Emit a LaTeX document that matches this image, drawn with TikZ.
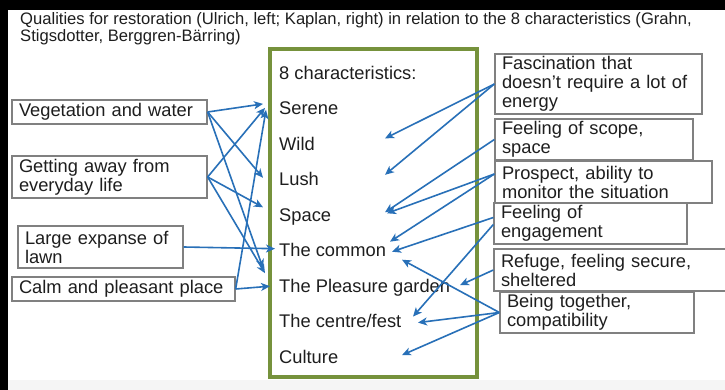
\documentclass[tikz,border=0pt]{standalone}
\usepackage{fontspec}
\setmainfont{Liberation Sans}
\usepackage{tikz}
\usetikzlibrary{calc}
\usetikzlibrary{positioning}
\usetikzlibrary{arrows.meta}

\definecolor{txt}{RGB}{30,30,30}
\definecolor{framegray}{RGB}{128,128,128}
\definecolor{olive}{RGB}{118,146,60}
\definecolor{linkblue}{RGB}{40,112,184}

\tikzset{
    quality/.style={draw=framegray, fill=white, line width=1.3pt, text=txt, align=left, inner xsep=7pt, inner ysep=0pt, font=\fontsize{18.3}{19}\selectfont},
    trait/.style={anchor=base west, inner sep=0pt, text=txt, font=\fontsize{18.3}{19}\selectfont},
    link/.style={draw=linkblue, line width=1.6pt, -{Stealth[length=9pt,width=8pt,inset=2.5pt]}}
}

\begin{document}
\begin{tikzpicture}[x=1pt,y=-1pt]
    \useasboundingbox (0,0) rectangle (725,390);

    \fill[black] (0,0) rectangle (725,390);
    \fill[white] (8,10) rectangle (725,380);
    \fill[black!4] (8,380) rectangle (725,390);

    \node[anchor=north west, inner sep=0pt, align=left, text=txt, font=\fontsize{16.6}{17.5}\selectfont] (title) at (20,12) {Qualities for restoration (Ulrich, left; Kaplan, right) in relation to the 8 characteristics (Grahn,\\Stigsdotter, Berggren-Bärring)};

    \draw[olive, line width=3.4pt] (270,49) rectangle (477,377);

    \node[trait] (head) at (279,79.5) {8 characteristics:};
    \node[trait] (serene) at (279,114.9) {Serene};
    \node[trait] (wild) at (279,150.4) {Wild};
    \node[trait] (lush) at (279,185.8) {Lush};
    \node[trait] (space) at (279,221.3) {Space};
    \node[trait] (common) at (279,256.7) {The common};
    \node[trait] (pleasure) at (279,292.2) {The Pleasure garden};
    \node[trait] (centre) at (279,327.6) {The centre/fest};
    \node[trait] (culture) at (279,363.1) {Culture};

    \node[quality, text width=181pt, minimum height=24pt] (veg) at (109.5,112) {Vegetation and water};
    \node[quality, text width=181pt, minimum height=42pt] (getaway) at (109.5,177) {Getting away from\\everyday life};
    \node[quality, text width=151pt, minimum height=42pt] (lawn) at (100.5,247) {Large expanse of\\lawn};
    \node[quality, text width=209pt, minimum height=24pt] (calm) at (123.5,289) {Calm and pleasant place};

    \node[quality, text width=193pt, minimum height=60pt] (fasc) at (598.5,84) {Fascination that\\doesn't require a lot of\\energy};
    \node[quality, text width=184pt, minimum height=41pt] (scope) at (594,139.5) {Feeling of scope,\\space};
    \node[quality, text width=179pt, minimum height=41pt] (engage) at (590.5,223.5) {Feeling of\\engagement};
    \node[quality, text width=203pt, minimum height=42pt] (prospect) at (603.5,182) {Prospect, ability to\\monitor the situation};
    \node[quality, text width=218pt, minimum height=42pt] (refuge) at (610,270) {Refuge, feeling secure,\\sheltered};
    \node[quality, text width=180pt, minimum height=41pt] (together) at (597,312.5) {Being together,\\compatibility};

    \draw[link] (veg.east) -- ([shift={(-16,-11)}]serene.base west);
    \draw[link] (veg.east) -- ([shift={(-16,-8)}]lush.base west);
    \draw[link] (veg.east) -- ([shift={(-16,-24)}]pleasure.base west);

    \draw[link] (getaway.east) -- ([shift={(-14,-7)}]serene.base west);
    \draw[link] (getaway.east) -- ([shift={(-16,-14)}]space.base west);
    \draw[link] (getaway.east) -- ([shift={(-14,-19)}]pleasure.base west);

    \draw[link] (lawn.east) -- ([shift={(-4,-8)}]common.base west);

    \draw[link] (calm.east) -- ([shift={(-13,-5)}]serene.base west);
    \draw[link] (calm.east) -- ([shift={(-9,-6)}]pleasure.base west);

    \draw[link] (fasc.west) -- ([shift={(106,-12)}]wild.base west);
    \draw[link] (fasc.west) -- ([shift={(106,-11)}]lush.base west);

    \draw[link] (scope.west) -- ([shift={(106,-9)}]space.base west);

    \draw[link] ([shift={(0,-8)}]prospect.west) -- ([shift={(108,-8)}]space.base west);
    \draw[link] ([shift={(0,-8)}]prospect.west) -- ([shift={(111,-15)}]common.base west);

    \draw[link] ([shift={(0,-6)}]engage.west) -- ([shift={(113,-5)}]common.base west);
    \draw[link] ([shift={(0,1)}]engage.west) -- ([shift={(134,-11)}]centre.base west);

    \draw[link] (refuge.west) -- ([shift={(181,-7)}]pleasure.base west);

    \draw[link] (together.west) -- ([shift={(123,3)}]common.base west);
    \draw[link] (together.west) -- ([shift={(139,-5)}]centre.base west);
    \draw[link] (together.west) -- ([shift={(123,-8)}]culture.base west);
\end{tikzpicture}
\end{document}
